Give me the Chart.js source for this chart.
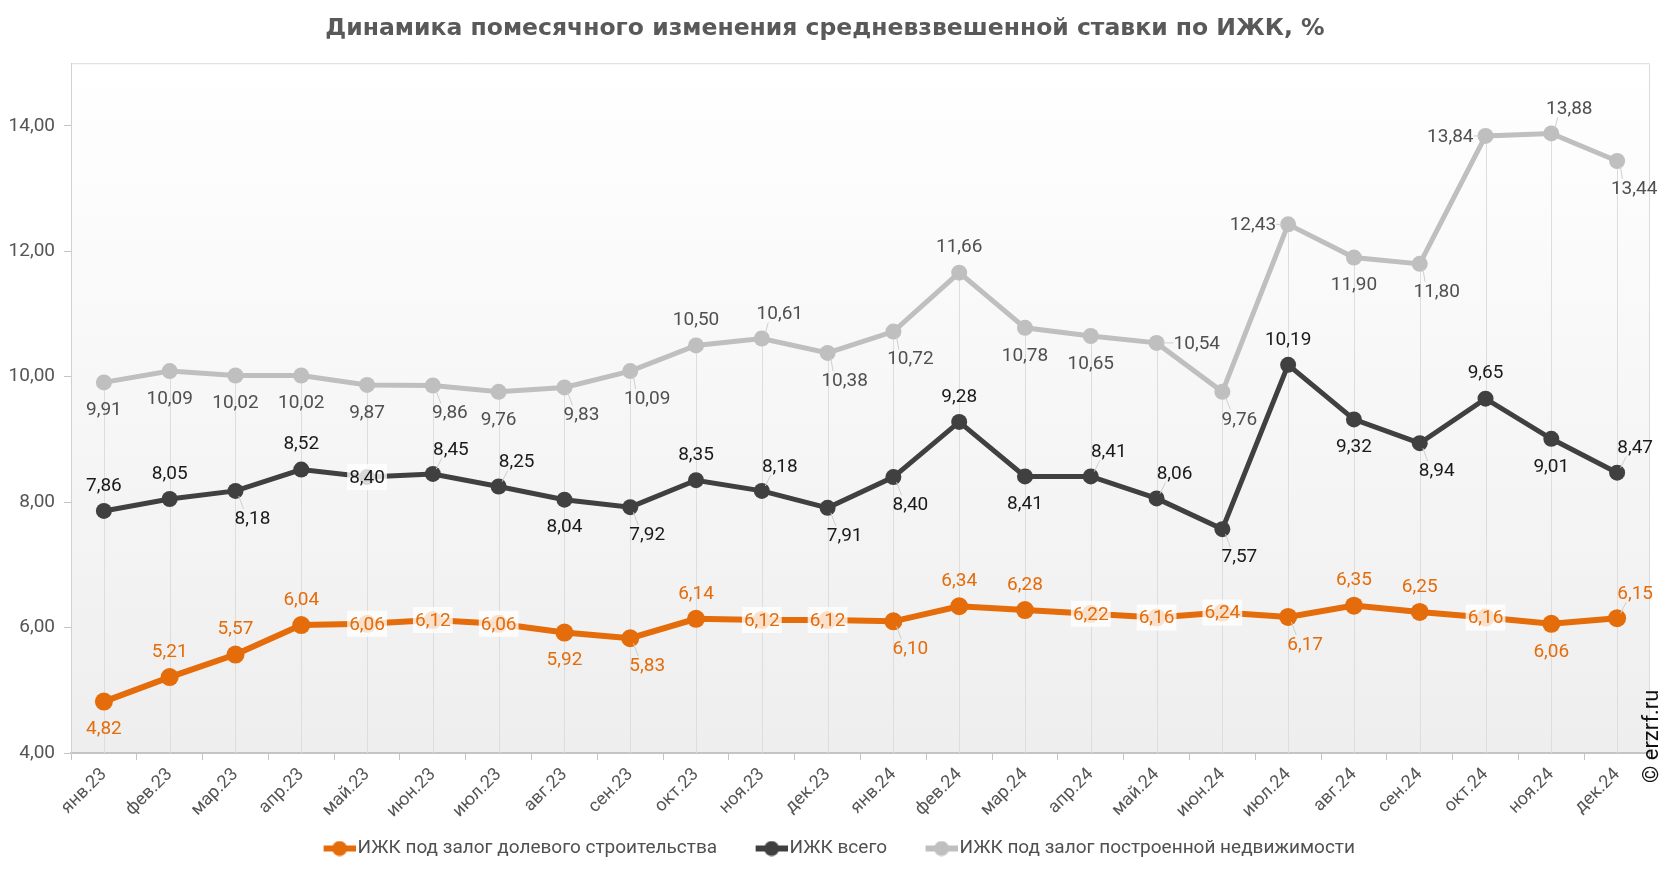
<!DOCTYPE html>
<html lang="ru">
<head>
<meta charset="utf-8">
<title>Динамика ставки по ИЖК</title>
<script src="https://cdn.jsdelivr.net/npm/chart.js@4.4.1/dist/chart.umd.min.js"></script>
<style>
  html, body { margin: 0; padding: 0; background: #fff; }
  #wrap { width: 1666px; height: 872px; position: relative; }
</style>
</head>
<body>
<div id="wrap"><canvas id="chart"></canvas></div>
<script>
// Месяцы (ось X)
const months = ['янв.23', 'фев.23', 'мар.23', 'апр.23', 'май.23', 'июн.23', 'июл.23', 'авг.23',
    'сен.23', 'окт.23', 'ноя.23', 'дек.23', 'янв.24', 'фев.24', 'мар.24', 'апр.24', 'май.24',
    'июн.24', 'июл.24', 'авг.24', 'сен.24', 'окт.24', 'ноя.24', 'дек.24'];

// Названия рядов
const seriesNames = ['ИЖК под залог долевого строительства', 'ИЖК всего', 'ИЖК под залог построенной недвижимости'];

// Ставки, %
const dolevoe = [4.82, 5.21, 5.57, 6.04, 6.06, 6.12, 6.06, 5.92, 5.83, 6.14, 6.12, 6.12,
    6.10, 6.34, 6.28, 6.22, 6.16, 6.24, 6.17, 6.35, 6.25, 6.16, 6.06, 6.15];
const vsego = [7.86, 8.05, 8.18, 8.52, 8.40, 8.45, 8.25, 8.04, 7.92, 8.35, 8.18, 7.91,
    8.40, 9.28, 8.41, 8.41, 8.06, 7.57, 10.19, 9.32, 8.94, 9.65, 9.01, 8.47];
const postroennoe = [9.91, 10.09, 10.02, 10.02, 9.87, 9.86, 9.76, 9.83, 10.09, 10.50, 10.61, 10.38,
    10.72, 11.66, 10.78, 10.65, 10.54, 9.76, 12.43, 11.90, 11.80, 13.84, 13.88, 13.44];

// Деления оси Y
const yTicks = [4, 6, 8, 10, 12, 14];

// Где ставить подписи значений: t - сверху, b - снизу, tr/br - по диагонали, l/r - сбоку, c - на точке
const posDolevoe = ['b', 't', 't', 't', 'c', 'c', 'c', 'b', 'br', 't', 'c', 'c',
    'br', 't', 't', 'c', 'c', 'c', 'br', 't', 't', 'c', 'b', 'tr'];
const posVsego = ['t', 't', 'br', 't', 'c', 'tr', 'tr', 'b', 'br', 't', 'tr', 'br',
    'br', 't', 'b', 'tr', 'tr', 'br', 't', 'b', 'br', 't', 'b', 'tr'];
const posPostroennoe = ['b', 'b', 'b', 'b', 'b', 'br', 'b', 'br', 'br', 't', 'tr', 'br',
    'br', 't', 'b', 'b', 'r', 'br', 'l', 'b', 'br', 'l', 'tr', 'br'];

const colOrange = '#E46C0A';
const colDark = '#404040';
const colGray = '#BFBFBF';

const fmt = v => v.toFixed(2).replace('.', ',');

// Значок для легенды: линия с кружком (справа, слева прозрачный отступ)
function legendIcon(color) {
    const c = document.createElement('canvas');
    c.width = 68; c.height = 16;
    const g = c.getContext('2d');
    g.strokeStyle = color;
    g.lineWidth = 6;
    g.beginPath(); g.moveTo(36, 8); g.lineTo(68, 8); g.stroke();
    g.fillStyle = color;
    g.beginPath(); g.arc(52, 8, 7.5, 0, Math.PI * 2); g.fill();
    return c;
}

// Фон области графика и рамка
const backgroundPlugin = {
    id: 'plotBackground',
    beforeDraw(chart) {
        const {ctx, chartArea: a} = chart;
        const grad = ctx.createLinearGradient(0, a.top, 0, a.bottom);
        grad.addColorStop(0, '#ffffff');
        grad.addColorStop(1, '#eeeeee');
        ctx.save();
        ctx.fillStyle = grad;
        ctx.fillRect(a.left, a.top, a.right - a.left, a.bottom - a.top);
        ctx.strokeStyle = '#dcdcdc';
        ctx.lineWidth = 1;
        ctx.beginPath();
        ctx.moveTo(a.left, a.top + 0.5);
        ctx.lineTo(a.right - 0.5, a.top + 0.5);
        ctx.lineTo(a.right - 0.5, a.bottom);
        ctx.stroke();
        ctx.restore();
    }
};

// Вертикальные линии от оси до верхней точки
const dropLinesPlugin = {
    id: 'dropLines',
    beforeDatasetsDraw(chart) {
        const {ctx, chartArea: a, scales} = chart;
        ctx.save();
        ctx.strokeStyle = '#dddddd';
        ctx.lineWidth = 1;
        months.forEach((m, i) => {
            const top = Math.max(dolevoe[i], vsego[i], postroennoe[i]);
            const x = Math.round(scales.x.getPixelForValue(i)) + 0.5;
            ctx.beginPath();
            ctx.moveTo(x, a.bottom);
            ctx.lineTo(x, scales.y.getPixelForValue(top));
            ctx.stroke();
        });
        ctx.restore();
    }
};

// Подписи значений
const valueLabelsPlugin = {
    id: 'valueLabels',
    afterDatasetsDraw(chart) {
        const {ctx} = chart;
        const sets = [
            {data: dolevoe, pos: posDolevoe, color: colOrange, ds: 0},
            {data: vsego, pos: posVsego, color: '#1a1a1a', ds: 1},
            {data: postroennoe, pos: posPostroennoe, color: '#505050', ds: 2}
        ];
        ctx.save();
        ctx.font = '19px Roboto';
        ctx.textBaseline = 'middle';
        ctx.textAlign = 'center';
        sets.forEach(s => {
            const meta = chart.getDatasetMeta(s.ds);
            s.data.forEach((v, i) => {
                const pt = meta.data[i];
                const text = fmt(v);
                const w = ctx.measureText(text).width;
                const p = s.pos[i];
                let dx = 0, dy = 0;
                if (p === 't') dy = -26;
                if (p === 'b') dy = 27;
                if (p === 'tr') { dx = 18; dy = -25; }
                if (p === 'br') { dx = 17; dy = 27; }
                if (p === 'l') dx = -(w / 2 + 12);
                if (p === 'r') dx = w / 2 + 17;
                const lx = pt.x + dx, ly = pt.y + dy;
                if (p !== 'c' && p !== 't' && p !== 'b') {
                    // тонкая выноска
                    ctx.strokeStyle = '#cfcfcf';
                    ctx.lineWidth = 1;
                    ctx.beginPath();
                    const ang = Math.atan2(dy, dx);
                    ctx.moveTo(pt.x + Math.cos(ang) * 6, pt.y + Math.sin(ang) * 6);
                    let ex, ey;
                    if (p === 'l') { ex = lx + w / 2; ey = ly; }
                    else if (p === 'r') { ex = lx - w / 2; ey = ly; }
                    else { ex = lx - w / 4; ey = ly + (dy > 0 ? -9 : 9); }
                    ctx.lineTo(ex, ey);
                    ctx.stroke();
                }
                if (p === 'c') {
                    ctx.fillStyle = 'rgba(255,255,255,0.8)';
                    ctx.fillRect(lx - w / 2 - 2, ly - 13, w + 4, 26);
                }
                ctx.fillStyle = s.color;
                ctx.fillText(text, lx, ly + 1);
            });
        });
        ctx.restore();
    }
};

// Копирайт справа
const copyrightPlugin = {
    id: 'copyright',
    afterDraw(chart) {
        const {ctx} = chart;
        ctx.save();
        ctx.translate(1652, 783);
        ctx.rotate(-Math.PI / 2);
        ctx.font = '22px Roboto';
        ctx.fillStyle = '#111';
        ctx.textAlign = 'left';
        ctx.textBaseline = 'middle';
        ctx.fillText('© erzrf.ru', 0, 0);
        ctx.restore();
    }
};

function makeDataset(label, data, color, lineWidth, radius) {
    return {
        label: label,
        data: data,
        borderColor: color,
        backgroundColor: color,
        borderWidth: lineWidth,
        pointRadius: radius,
        pointHoverRadius: radius,
        pointBackgroundColor: color,
        pointBorderWidth: 0,
        tension: 0,
        legendIcon: legendIcon(color)
    };
}

const ctx = document.getElementById('chart').getContext('2d');
new Chart(ctx, {
    type: 'line',
    data: {
        labels: months,
        datasets: [
            makeDataset(seriesNames[0], dolevoe, colOrange, 6, 9),
            makeDataset(seriesNames[1], vsego, colDark, 5, 8),
            makeDataset(seriesNames[2], postroennoe, colGray, 5, 8)
        ]
    },
    options: {
        responsive: true,
        maintainAspectRatio: false,
        animation: false,
        layout: { padding: { left: 0, right: 16, top: 0, bottom: 4 } },
        plugins: {
            title: {
                display: true,
                text: 'Динамика помесячного изменения средневзвешенной ставки по ИЖК, %',
                color: '#595959',
                font: { family: 'DejaVu Sans', size: 23.5, weight: 'bold' },
                padding: { top: 15, bottom: 20 }
            },
            legend: {
                position: 'bottom',
                labels: {
                    usePointStyle: true,
                    pointStyleWidth: 53,
                    padding: 10,
                    color: '#505050',
                    font: { family: 'Roboto', size: 19 },
                    generateLabels(chart) {
                        return chart.data.datasets.map((ds, i) => ({
                            text: ds.label,
                            pointStyle: ds.legendIcon,
                            fontColor: '#505050',
                            hidden: false,
                            datasetIndex: i,
                            lineWidth: 0
                        }));
                    }
                }
            },
            tooltip: { enabled: false }
        },
        scales: {
            x: {
                offset: true,
                grid: {
                    offset: true,
                    drawOnChartArea: false,
                    tickLength: 7,
                    color: '#c4c4c4'
                },
                border: { color: '#c4c4c4', width: 2 },
                ticks: {
                    minRotation: 45,
                    maxRotation: 45,
                    autoSkip: false,
                    padding: 4,
                    color: '#555',
                    font: { family: 'Roboto', size: 18 }
                },
                afterFit(scale) { scale.height = 76; }
            },
            y: {
                min: 4,
                max: 15,
                grid: {
                    drawOnChartArea: false,
                    tickLength: 7,
                    color: '#c4c4c4'
                },
                border: { color: '#d0d0d0', width: 1 },
                ticks: {
                    color: '#555',
                    font: { family: 'Roboto', size: 19 },
                    padding: 9,
                    callback: v => fmt(v)
                },
                afterBuildTicks(scale) {
                    scale.ticks = yTicks.map(v => ({ value: v }));
                },
                afterFit(scale) { scale.width = 71; }
            }
        }
    },
    plugins: [backgroundPlugin, dropLinesPlugin, valueLabelsPlugin, copyrightPlugin]
});
</script>
</body>
</html>
